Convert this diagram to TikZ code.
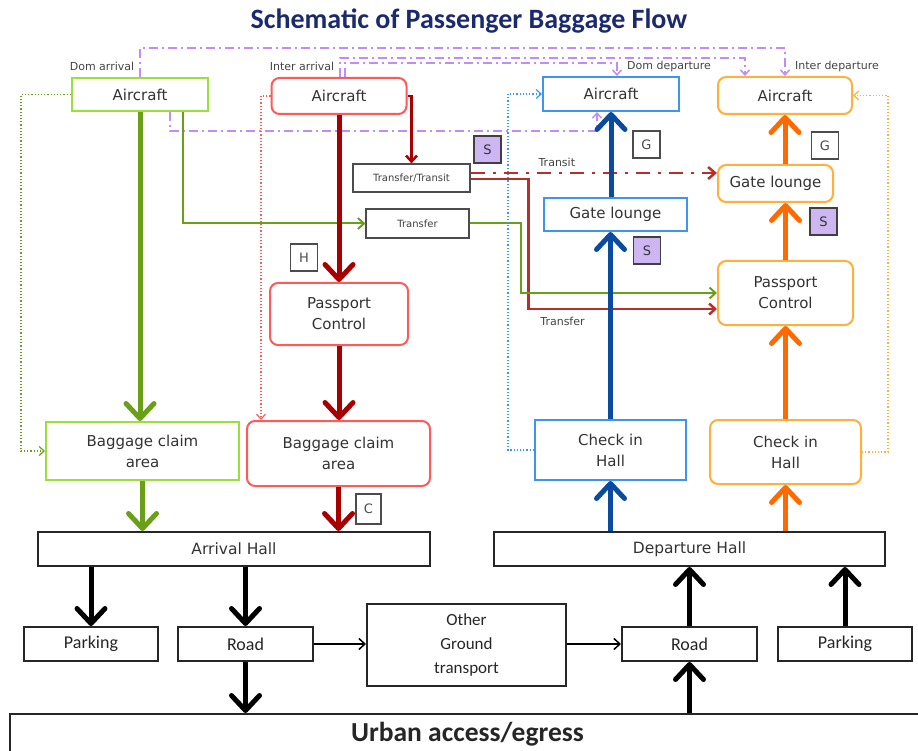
\documentclass[tikz,border=0pt]{standalone}
\usepackage{fontspec}
\setmainfont{DejaVu Sans}
\newfontfamily\calib{Carlito}
\usetikzlibrary{arrows.meta, positioning}
\definecolor{titleblue}{HTML}{1B2A6E}
\definecolor{limeline}{HTML}{9BDF3A}
\definecolor{greenflow}{HTML}{6A9F18}
\definecolor{redline}{HTML}{FF5A5A}
\definecolor{redflow}{HTML}{A80000}
\definecolor{redthin}{HTML}{B5302A}
\definecolor{blueline}{HTML}{3D95F0}
\definecolor{blueflow}{HTML}{0A4BA0}
\definecolor{orangeline}{HTML}{FFAF3C}
\definecolor{orangeflow}{HTML}{FF6A00}
\definecolor{lavender}{HTML}{CDB6F2}
\definecolor{purpledash}{HTML}{C08CF5}
\definecolor{labelgray}{HTML}{444444}

\begin{document}
\begin{tikzpicture}[x=1pt, y=-1pt,
  box/.style={rectangle, line width=2pt, fill=white, align=center, inner sep=0pt,
              font=\fontsize{15}{21}\selectfont, text=black!80},
  domarr/.style={box, draw=limeline},
  intarr/.style={box, draw=redline, rounded corners=8pt},
  domdep/.style={box, draw=blueline},
  intdep/.style={box, draw=orangeline, rounded corners=8pt},
  xferbox/.style={box, draw=black!70, line width=1.2pt, font=\fontsize{10}{12}\selectfont, text=black!75},
  tagbox/.style={rectangle, draw=black!70, line width=1.3pt, fill=white, minimum size=27pt,
                 inner sep=0pt, font=\fontsize{13}{14}\selectfont, text=black!70},
  stag/.style={tagbox, fill=lavender, draw=black!75, text=black!80},
  hall/.style={box, draw=black!85, font=\fontsize{15.5}{18}\selectfont},
  ground/.style={hall, font=\calib\fontsize{18}{22}\selectfont, text=black!85},
  note/.style={font=\fontsize{11}{12}\selectfont, text=labelgray, inner sep=1pt},
  flow/.style={line width=5pt, -{Straight Barb[round, length=15pt, width=28pt]}},
  link/.style={line width=2pt, -{Straight Barb[length=6pt, width=11pt]}},
  dotlink/.style={dotted, line width=1.2pt, -{Straight Barb[length=5pt, width=9pt]}},
  route/.style={purpledash, line width=1.5pt, dash pattern=on 9pt off 4pt on 2pt off 4pt,
                -{Straight Barb[length=5pt, width=9pt]}}
]
  \useasboundingbox (0,0) rectangle (918,751);

  \node[font=\calib\bfseries\fontsize{28}{32}\selectfont, text=titleblue] (title) at (469,21)
    {Schematic of Passenger Baggage Flow};

  % arrivals
  \node[domarr, minimum width=136pt, minimum height=33pt] (darr) at (140,94.5) {Aircraft};
  \node[domarr, minimum width=193pt, minimum height=58pt] (dbag) at (142.5,451) {Baggage claim\\area};
  \node[intarr, minimum width=135pt, minimum height=36pt] (iarr) at (339,96) {Aircraft};
  \node[intarr, minimum width=138pt, minimum height=62pt] (ipass) at (339,314) {Passport\\Control};
  \node[intarr, minimum width=183pt, minimum height=65pt] (ibag) at (338.5,453.5) {Baggage claim\\area};
  \node[note] (domarrlbl) at (102,66) {Dom arrival};
  \node[note] (intarrlbl) at (302,66) {Inter arrival};

  \node[xferbox, minimum width=117pt, minimum height=28pt] (xfer1) at (411.5,178) {Transfer/Transit};
  \node[xferbox, minimum width=103pt, minimum height=29pt] (xfer2) at (417.5,223.5) {Transfer};
  \node[stag] (s1) at (487.5,149.5) {S};
  \node[tagbox] (h1) at (304,257.5) {H};
  \node[tagbox, minimum width=25pt, minimum height=30pt] (c1) at (368.5,509) {C};

  % departures
  \node[domdep, minimum width=136pt, minimum height=34pt] (ddep) at (611,94) {Aircraft};
  \node[domdep, minimum width=143pt, minimum height=33pt] (dgate) at (615.5,214.5) {Gate lounge};
  \node[domdep, minimum width=151pt, minimum height=60pt] (dchk) at (610.5,450) {Check in\\Hall};
  \node[tagbox] (g1) at (646.5,144.5) {G};
  \node[stag] (s2) at (647,250.5) {S};
  \node[intdep, minimum width=134pt, minimum height=37pt] (idep) at (785,95.5) {Aircraft};
  \node[intdep, minimum width=115pt, minimum height=37pt] (igate) at (775.5,183.5) {Gate lounge};
  \node[intdep, minimum width=135pt, minimum height=64pt] (ipassd) at (785.5,293) {Passport\\Control};
  \node[intdep, minimum width=151pt, minimum height=64pt] (ichk) at (785.5,452) {Check in\\Hall};
  \node[tagbox] (g2) at (825,145.5) {G};
  \node[stag] (s3) at (823.5,221.5) {S};
  \node[note, anchor=west] (domdeplbl) at (626,66) {Dom departure};
  \node[note, anchor=west] (intdeplbl) at (794,66) {Inter departure};

  % halls and ground side
  \node[hall, minimum width=392pt, minimum height=34pt] (arrhall) at (234,549) {Arrival Hall};
  \node[hall, minimum width=391pt, minimum height=34pt] (dephall) at (689.5,549) {Departure Hall};
  \node[ground, minimum width=134pt, minimum height=34pt] (park1) at (91,644) {Parking};
  \node[ground, minimum width=135pt, minimum height=34pt] (road1) at (245.5,644) {Road};
  \node[ground, minimum width=199pt, minimum height=82pt, font=\calib\fontsize{17}{24}\selectfont]
    (other) at (466.5,645) {Other\\Ground\\transport};
  \node[ground, minimum width=135pt, minimum height=34pt] (road2) at (689.5,644) {Road};
  \node[ground, minimum width=134pt, minimum height=34pt] (park2) at (845,644) {Parking};
  \node[ground, minimum width=915pt, minimum height=41pt, font=\calib\bfseries\fontsize{27.5}{30}\selectfont]
    (urban) at (467.5,734.5) {\raisebox{3pt}{Urban access/egress}};

  % purple routes
  \draw[route] (darr.north) -- ++(0,-29) -| (idep.north);
  \draw[route] ([xshift=1pt]iarr.north) -- ++(0,-19) -| ([xshift=-40pt]idep.north);
  \draw[route] ([xshift=6pt]iarr.north) -- ++(0,-14) -| ([xshift=6pt]ddep.north);
  \draw[route] ([xshift=30pt]darr.south) -- ++(0,19) -| ([xshift=-14pt]ddep.south);

  % domestic arrival
  \draw[flow, greenflow] (darr.south) -- (darr.south |- dbag.north);
  \draw[flow, greenflow] (dbag.south) -- (dbag.south |- arrhall.north);
  \draw[link, greenflow] ([xshift=43pt]darr.south) |- (xfer2.west);
  \draw[dotlink, greenflow] (darr.west) -- ++(-50,0) |- (dbag.west);

  % international arrival
  \draw[flow, redflow] (iarr.south) -- (ipass.north);
  \draw[flow, redflow] (ipass.south) -- (ipass.south |- ibag.north);
  \draw[flow, redflow] (ibag.south) -- (ibag.south |- arrhall.north);
  \draw[link, redflow, line width=2.5pt] (iarr.east) -| (xfer1.north);
  \draw[dotlink, redline] (iarr.west) -| ([xshift=15pt]ibag.north west);

  % transfers
  \draw[redthin, line width=2.5pt, dash pattern=on 14pt off 8pt on 3pt off 8pt,
        -{Straight Barb[length=7pt, width=12pt]}]
    ([yshift=5pt]xfer1.east) -- node[note, above=4pt, pos=0.35] {Transit} ([yshift=5pt]xfer1.east -| igate.west);
  \draw[link, redthin, line width=2.5pt] ([yshift=-1pt]xfer1.east) -- ++(58,0) |- ([yshift=-16pt]ipassd.west)
    node[note, below=6pt, pos=0.59] {Transfer};
  \draw[link, greenflow] (xfer2.east) -- ++(51,0) |- (ipassd.west);

  % domestic departure
  \draw[flow, blueflow] (dchk.south |- dephall.north) -- (dchk.south);
  \draw[flow, blueflow] (dchk.north) -- (dchk.north |- dgate.south);
  \draw[flow, blueflow] (dgate.north -| ddep.south) -- (ddep.south);
  \draw[dotlink, blueline] (dchk.west) -- ++(-26,0) |- (ddep.west);

  % international departure
  \draw[flow, orangeflow] (ichk.south |- dephall.north) -- (ichk.south);
  \draw[flow, orangeflow] (ichk.north) -- (ipassd.south);
  \draw[flow, orangeflow] (ipassd.north) -- (ipassd.north |- igate.south);
  \draw[flow, orangeflow] (igate.north -| idep.south) -- (idep.south);
  \draw[dotlink, orangeline] (ichk.east) -- ++(26,0) |- (idep.east);

  % ground side
  \draw[flow, black] (arrhall.south -| park1.north) -- (park1.north);
  \draw[flow, black] (arrhall.south -| road1.north) -- (road1.north);
  \draw[flow, black] (road1.south) -- (road1.south |- urban.north);
  \draw[flow, black] (urban.north -| road2.south) -- (road2.south);
  \draw[flow, black] (road2.north) -- (road2.north |- dephall.south);
  \draw[flow, black] (park2.north) -- (park2.north |- dephall.south);
  \draw[link, black, line width=1.5pt] (road1.east) -- (road1.east -| other.west);
  \draw[link, black, line width=1.5pt] (other.east |- road2.west) -- (road2.west);
\end{tikzpicture}
\end{document}
